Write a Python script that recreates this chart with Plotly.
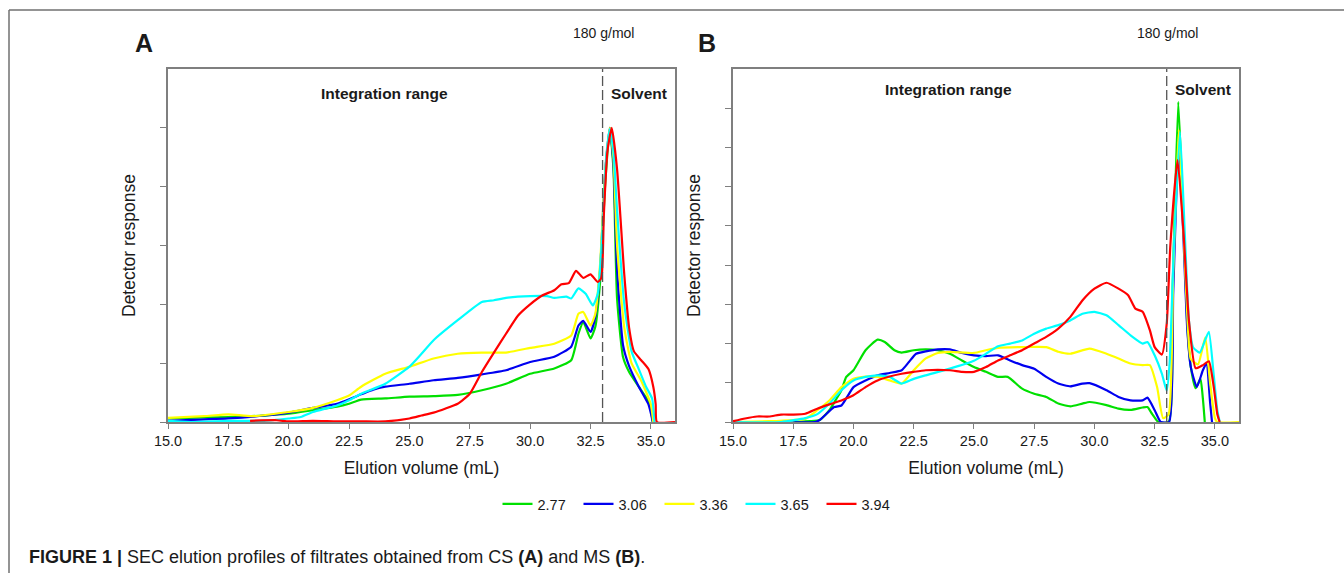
import plotly.graph_objects as go

# ---------------- data ----------------
series_names = ["2.77", "3.06", "3.36", "3.65", "3.94"]
series_colors = ["#00e000", "#0000f0", "#ffff00", "#00ffff", "#ff0000"]

x_ticks = [15.0, 17.5, 20.0, 22.5, 25.0, 27.5, 30.0, 32.5, 35.0]
a_y_ticks = [0, 1, 2, 3, 4, 5]
b_y_ticks = [0, 1, 2, 3, 4, 5, 6, 7, 8]
cutoff_volume = 33.0

# Panel A (CS)
a_x_277 = [15.0, 17.5, 19.0, 20.0, 21.0, 22.0, 22.5, 23.0, 24.0, 25.0, 26.0, 27.0, 28.0, 29.0, 30.0, 31.0, 31.7, 32.0, 32.2, 32.5, 32.7, 32.9, 33.1, 33.3, 33.45, 33.6, 33.85, 34.1, 34.5, 34.9, 35.0, 35.08]
a_y_277 = [0.06, 0.085, 0.11, 0.14, 0.2, 0.26, 0.31, 0.38, 0.40, 0.43, 0.44, 0.46, 0.54, 0.65, 0.82, 0.91, 1.05, 1.5, 1.70, 1.42, 1.62, 2.4, 4.0, 5.0, 4.3, 2.1, 1.1, 0.85, 0.6, 0.35, 0.2, 0.0]

a_x_306 = [15.0, 17.5, 19.0, 20.0, 21.0, 22.0, 23.0, 23.5, 24.0, 25.0, 26.0, 27.0, 28.0, 29.0, 30.0, 31.0, 31.7, 32.0, 32.2, 32.5, 32.7, 32.9, 33.1, 33.3, 33.45, 33.6, 33.85, 34.1, 34.5, 34.9, 35.0, 35.08]
a_y_306 = [0.02, 0.06, 0.11, 0.16, 0.24, 0.31, 0.47, 0.55, 0.6, 0.65, 0.71, 0.75, 0.81, 0.88, 1.02, 1.11, 1.28, 1.64, 1.72, 1.53, 1.79, 2.6, 4.2, 5.0, 4.4, 2.6, 1.3, 0.95, 0.6, 0.3, 0.15, 0.0]

a_x_336 = [15.0, 16.5, 17.5, 18.5, 20.0, 21.0, 22.0, 22.5, 23.0, 24.0, 25.0, 26.0, 27.0, 28.0, 29.0, 30.0, 31.0, 31.7, 32.0, 32.2, 32.5, 32.7, 32.9, 33.1, 33.3, 33.45, 33.6, 33.9, 34.2, 34.6, 35.0, 35.1]
a_y_336 = [0.07, 0.10, 0.13, 0.10, 0.17, 0.24, 0.37, 0.45, 0.6, 0.82, 0.94, 1.08, 1.16, 1.18, 1.18, 1.26, 1.33, 1.47, 1.84, 1.87, 1.64, 1.84, 2.7, 4.2, 5.0, 4.5, 3.0, 1.6, 1.0, 0.7, 0.3, 0.0]

a_x_365 = [15.0, 16.0, 17.5, 19.0, 20.0, 20.5, 21.0, 22.0, 22.5, 23.0, 24.0, 25.0, 25.5, 26.0, 27.0, 28.0, 28.5, 29.0, 30.0, 30.7, 31.0, 31.5, 31.7, 32.0, 32.3, 32.6, 32.8, 33.0, 33.15, 33.3, 33.45, 33.6, 33.9, 34.2, 34.5, 34.8, 35.05, 35.15]
a_y_365 = [0.02, 0.0, 0.02, 0.02, 0.06, 0.085, 0.17, 0.28, 0.37, 0.48, 0.65, 0.94, 1.16, 1.39, 1.73, 2.04, 2.07, 2.11, 2.14, 2.14, 2.11, 2.13, 2.1, 2.27, 2.18, 1.98, 2.18, 3.3, 4.5, 4.98, 4.6, 3.6, 2.0, 1.2, 0.9, 0.6, 0.4, 0.0]

a_x_394 = [18.4, 19.5, 20.0, 21.0, 22.0, 23.0, 24.0, 25.0, 25.5, 26.0, 26.5, 27.0, 27.5, 28.0, 28.5, 29.0, 29.5, 30.0, 30.5, 31.0, 31.3, 31.6, 31.9, 32.2, 32.5, 32.8, 32.95, 33.05, 33.2, 33.38, 33.6, 33.9, 34.1, 34.3, 34.6, 34.9, 35.1, 35.2, 35.25, 36.0]
a_y_394 = [0.02, 0.03, 0.01, 0.02, 0.01, 0.01, 0.01, 0.06, 0.11, 0.16, 0.23, 0.31, 0.48, 0.85, 1.18, 1.5, 1.81, 2.0, 2.15, 2.24, 2.34, 2.36, 2.57, 2.45, 2.51, 2.38, 2.45, 3.5, 4.6, 5.0, 4.3, 2.5, 1.6, 1.2, 1.05, 0.9, 0.6, 0.3, 0.0, 0.0]

# Panel B (MS)
b_x_277 = [17.5, 18.2, 18.6, 19.0, 19.3, 19.5, 19.7, 20.0, 20.5, 21.0, 21.3, 21.7, 22.0, 22.5, 23.0, 23.5, 24.0, 24.5, 25.0, 25.5, 26.0, 26.4, 27.0, 27.5, 28.0, 28.5, 29.0, 29.5, 29.8, 30.5, 31.0, 31.5, 32.0, 32.2, 32.4, 32.65, 33.08, 33.25, 33.48, 33.7, 33.85, 34.0, 34.2, 34.4, 34.5, 34.58]
b_y_277 = [0.0, 0.02, 0.05, 0.3, 0.6, 0.81, 1.15, 1.32, 1.83, 2.1, 2.04, 1.83, 1.77, 1.83, 1.85, 1.83, 1.74, 1.57, 1.40, 1.28, 1.15, 1.15, 0.85, 0.72, 0.64, 0.47, 0.40, 0.47, 0.51, 0.43, 0.34, 0.31, 0.37, 0.38, 0.2, 0.0, 0.0, 3.5, 8.16, 5.0, 2.5, 1.4, 0.86, 1.1, 0.6, 0.0]

b_x_306 = [17.0, 18.4, 18.6, 19.2, 19.5, 19.7, 20.0, 20.5, 21.0, 21.5, 22.0, 22.3, 22.6, 23.0, 23.5, 24.0, 24.5, 25.0, 25.5, 26.0, 26.5, 27.0, 27.5, 28.0, 28.5, 29.0, 29.5, 29.8, 30.5, 31.0, 31.5, 32.0, 32.2, 32.5, 32.75, 33.1, 33.27, 33.5, 33.7, 33.85, 34.0, 34.25, 34.5, 34.65, 34.8, 34.88]
b_y_306 = [0.0, 0.0, 0.05, 0.38, 0.42, 0.6, 0.89, 1.06, 1.19, 1.25, 1.32, 1.53, 1.74, 1.80, 1.85, 1.85, 1.76, 1.70, 1.68, 1.70, 1.57, 1.45, 1.36, 1.15, 0.98, 0.91, 0.98, 0.99, 0.81, 0.64, 0.55, 0.55, 0.62, 0.3, 0.0, 0.0, 3.3, 7.2, 4.6, 2.4, 1.4, 0.89, 1.32, 1.49, 0.5, 0.0]

b_x_336 = [15.0, 16.5, 17.5, 18.0, 18.5, 19.0, 19.5, 20.0, 20.5, 21.0, 21.5, 22.0, 22.5, 23.0, 23.5, 24.0, 25.0, 25.5, 26.0, 27.0, 28.0, 28.5, 29.0, 29.8, 30.5, 31.0, 31.5, 32.0, 32.3, 32.6, 32.85, 33.08, 33.27, 33.5, 33.7, 33.88, 34.0, 34.3, 34.6, 34.8, 35.0, 35.1, 36.0]
b_y_336 = [0.0, 0.02, 0.05, 0.08, 0.3, 0.55, 0.89, 1.1, 1.16, 1.15, 1.06, 0.98, 1.32, 1.62, 1.76, 1.79, 1.76, 1.83, 1.89, 1.91, 1.91, 1.79, 1.74, 1.87, 1.74, 1.62, 1.49, 1.45, 1.45, 0.89, 0.1, 0.2, 3.8, 7.45, 4.8, 2.4, 1.6, 1.47, 2.16, 1.0, 0.1, 0.0, 0.0]

b_x_365 = [15.0, 17.0, 18.0, 18.5, 19.0, 19.5, 20.0, 20.5, 21.0, 21.5, 22.0, 22.5, 23.0, 24.0, 25.0, 25.5, 26.0, 26.5, 27.0, 27.5, 28.0, 28.5, 29.0, 29.5, 30.0, 30.5, 31.0, 31.5, 32.0, 32.2, 32.5, 32.8, 33.0, 33.12, 33.3, 33.55, 33.75, 33.92, 34.1, 34.37, 34.6, 34.75, 34.95, 35.1, 35.2]
b_y_365 = [0.0, 0.0, 0.1, 0.2, 0.47, 0.81, 1.06, 1.15, 1.19, 1.15, 0.98, 1.1, 1.19, 1.36, 1.56, 1.74, 1.93, 2.0, 2.08, 2.25, 2.38, 2.47, 2.59, 2.76, 2.81, 2.72, 2.47, 2.21, 2.0, 2.04, 1.70, 1.23, 0.8, 1.5, 4.5, 7.4, 4.8, 2.6, 1.9, 1.77, 2.1, 2.3, 1.2, 0.3, 0.0]

b_x_394 = [15.0, 15.5, 16.0, 16.5, 17.0, 17.5, 18.0, 18.5, 19.0, 19.5, 20.0, 20.5, 21.0, 21.5, 22.0, 22.5, 23.0, 24.0, 24.5, 25.0, 25.5, 26.0, 26.5, 27.0, 27.5, 28.0, 28.5, 29.0, 29.5, 30.0, 30.5, 31.0, 31.4, 31.7, 32.0, 32.3, 32.5, 32.8, 33.0, 33.15, 33.45, 33.7, 33.92, 34.2, 34.5, 34.75, 34.95, 35.1, 35.2]
b_y_394 = [0.02, 0.09, 0.14, 0.14, 0.19, 0.19, 0.21, 0.34, 0.45, 0.55, 0.68, 0.89, 1.06, 1.16, 1.23, 1.28, 1.32, 1.32, 1.28, 1.28, 1.40, 1.57, 1.70, 1.83, 2.0, 2.17, 2.38, 2.68, 3.1, 3.40, 3.55, 3.40, 3.23, 2.89, 2.81, 2.34, 1.91, 1.72, 2.5, 4.5, 6.68, 4.8, 2.6, 1.37, 1.45, 1.55, 0.9, 0.2, 0.0]

panel_a = [(a_x_277, a_y_277), (a_x_306, a_y_306), (a_x_336, a_y_336), (a_x_365, a_y_365), (a_x_394, a_y_394)]
panel_b = [(b_x_277, b_y_277), (b_x_306, b_y_306), (b_x_336, b_y_336), (b_x_365, b_y_365), (b_x_394, b_y_394)]

# ---------------- figure ----------------
W, H = 1344, 573
FONT = "Liberation Sans, Arial, sans-serif"
TXT = "#1a1a1a"


def px_x(p):
    return p / W


def px_y(p):
    return 1 - p / H


fig = go.Figure()
for i, (xs, ys) in enumerate(panel_a):
    fig.add_trace(go.Scatter(x=xs, y=ys, mode="lines", name=series_names[i],
                             line=dict(color=series_colors[i], width=2.2, shape="spline", smoothing=0.5),
                             xaxis="x", yaxis="y", showlegend=True))
for i, (xs, ys) in enumerate(panel_b):
    fig.add_trace(go.Scatter(x=xs, y=ys, mode="lines", name=series_names[i],
                             line=dict(color=series_colors[i], width=2.2, shape="spline", smoothing=0.5),
                             xaxis="x2", yaxis="y2", showlegend=False))

axis_line = "#7f7f7f"
y_dom = [px_y(422), px_y(69)]

common_x = dict(range=[15, 36], tickvals=x_ticks, ticktext=[f"{v:.1f}" for v in x_ticks],
                ticks="outside", ticklen=5, tickcolor=axis_line, tickwidth=1.2,
                showline=True, mirror=True, linecolor=axis_line, linewidth=1.5,
                showgrid=False, zeroline=False, automargin=False,
                tickfont=dict(size=14.5, color=TXT, family=FONT),
                title=dict(text="Elution volume (mL)", font=dict(size=17.5, color=TXT, family=FONT), standoff=14))
common_y = dict(ticks="outside", ticklen=6, tickcolor=axis_line, tickwidth=1.2,
                showline=True, mirror=True, linecolor=axis_line, linewidth=1.5,
                showgrid=False, zeroline=False, showticklabels=False, automargin=False,
                title=dict(text="Detector response", font=dict(size=17.5, color=TXT, family=FONT), standoff=20))

fig.update_layout(
    width=W, height=H,
    margin=dict(l=0, r=0, t=0, b=0, autoexpand=False),
    paper_bgcolor="white", plot_bgcolor="white",
    font=dict(family=FONT, color=TXT),
    xaxis=dict(domain=[px_x(168), px_x(675)], anchor="y", **common_x),
    yaxis=dict(domain=y_dom, anchor="x", range=[0, 6], tickvals=a_y_ticks, **common_y),
    xaxis2=dict(domain=[px_x(733), px_x(1239)], anchor="y2", **common_x),
    yaxis2=dict(domain=y_dom, anchor="x2", range=[0, 9], tickvals=b_y_ticks, **common_y),
    legend=dict(orientation="h", x=px_x(700), xanchor="center", y=px_y(504), yanchor="middle",
                font=dict(size=14.5, color=TXT, family=FONT), itemwidth=30,
                entrywidth=36, entrywidthmode="pixels", bgcolor="rgba(0,0,0,0)"),
    showlegend=True,
)

shapes = []
for xr in ["x", "x2"]:
    shapes.append(dict(type="line", xref=xr, yref=("y" if xr == "x" else "y2") + " domain",
                       x0=cutoff_volume, x1=cutoff_volume, y0=0, y1=1,
                       line=dict(color="#555555", width=1.3, dash="10px,4px")))
# outer figure frame (top and left)
shapes.append(dict(type="line", xref="paper", yref="paper", x0=px_x(9), x1=1.0, y0=px_y(10), y1=px_y(10),
                   line=dict(color="#707070", width=1.5)))
shapes.append(dict(type="line", xref="paper", yref="paper", x0=px_x(9), x1=px_x(9), y0=0, y1=px_y(10),
                   line=dict(color="#707070", width=1.5)))
fig.update_layout(shapes=shapes)

ann = []


def add_ann(text, xref, yref, x, y, size, xanchor="center", yanchor="middle"):
    ann.append(dict(text=text, xref=xref, yref=yref, x=x, y=y, xanchor=xanchor, yanchor=yanchor,
                    showarrow=False, font=dict(size=size, color=TXT, family=FONT)))


add_ann("<b>A</b>", "paper", "paper", px_x(144), px_y(43), 25)
add_ann("<b>B</b>", "paper", "paper", px_x(707), px_y(43), 25)
for xr, yr, ytxt in [("x", "y", 5.58), ("x2", "y2", 8.48)]:
    add_ann("180 g/mol", xr, "paper", 33.05, px_y(33), 14)
    add_ann("<b>Integration range</b>", xr, yr, 23.96, ytxt, 15.5)
    add_ann("<b>Solvent</b>", xr, yr, 34.5, ytxt, 15.5)
add_ann("<b>FIGURE 1 |</b> SEC elution profiles of filtrates obtained from CS <b>(A)</b> and MS <b>(B)</b>.",
        "paper", "paper", px_x(27), px_y(557), 18, xanchor="left")
fig.update_layout(annotations=ann)

fig.write_html("out.html", config={"displayModeBar": False},
               post_script="document.body.style.margin='0px';")
